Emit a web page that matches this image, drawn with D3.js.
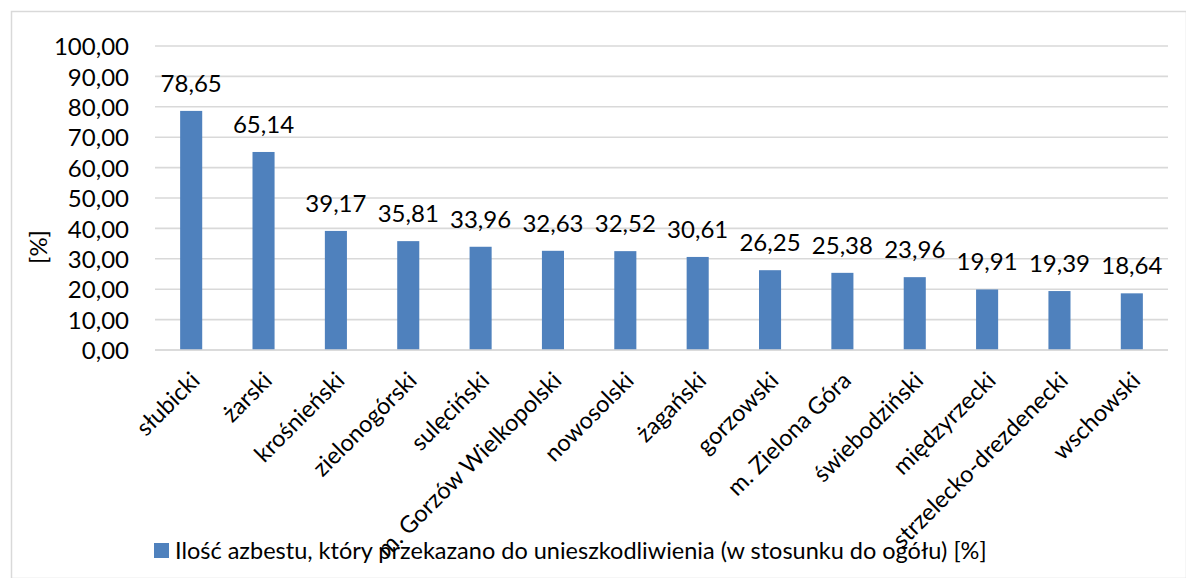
<!DOCTYPE html>
<html>
<head>
<meta charset="utf-8">
<script src="https://cdn.jsdelivr.net/npm/d3@7"></script>
<style>
  html, body { margin: 0; padding: 0; background: #fff; }
  svg { display: block; }
  text { font-family: Lato, "Open Sans", sans-serif; fill: #000; }
</style>
</head>
<body>
<svg id="chart" width="1186" height="578"></svg>
<script>
// Powiaty (counties) and share of asbestos sent for disposal [%]
const categories = [
  "słubicki", "żarski", "krośnieński", "zielonogórski", "sulęciński",
  "m. Gorzów Wielkopolski", "nowosolski", "żagański", "gorzowski",
  "m. Zielona Góra", "świebodziński", "międzyrzecki",
  "strzelecko-drezdenecki", "wschowski"
];
const values = [78.65, 65.14, 39.17, 35.81, 33.96, 32.63, 32.52, 30.61,
                26.25, 25.38, 23.96, 19.91, 19.39, 18.64];
const yTicks = [0, 10, 20, 30, 40, 50, 60, 70, 80, 90, 100];
const seriesName = "Ilość azbestu, który przekazano do unieszkodliwienia (w stosunku do ogółu) [%]";
const yTitle = "[%]";

const fmt = v => v.toFixed(2).replace(".", ",");

const svg = d3.select("#chart");
const W = 1186, H = 578;
const plot = { left: 155, right: 1168, top: 46, bottom: 350 };
const barColor = "#4f81bd";
const gridColor = "#d9d9d9";

// chart frame
svg.append("rect")
  .attr("x", 11.5).attr("y", 11.5)
  .attr("width", W - 11).attr("height", H - 11)
  .attr("fill", "#fff").attr("stroke", gridColor).attr("stroke-width", 1.5);

const x = d3.scaleBand().domain(categories)
  .range([plot.left, plot.right]).paddingInner(0.695).paddingOuter(0.3475);
const y = d3.scaleLinear().domain([0, 100]).range([plot.bottom, plot.top]);

// horizontal gridlines
svg.append("g").selectAll("line").data(yTicks).join("line")
  .attr("x1", plot.left).attr("x2", plot.right)
  .attr("y1", d => y(d)).attr("y2", d => y(d))
  .attr("stroke", gridColor).attr("stroke-width", 1.6);

// y axis labels
const yAxis = d3.axisLeft(y).tickValues(yTicks).tickFormat(fmt).tickSize(0).tickPadding(0);
const gy = svg.append("g").attr("transform", `translate(129,0)`).call(yAxis);
gy.select(".domain").remove();
gy.selectAll("text").attr("font-size", 24).attr("font-family", "Lato, sans-serif").attr("fill", "#000").attr("dy", "0.36em");

// y axis title
svg.append("text")
  .attr("transform", "translate(47,247) rotate(-90)")
  .attr("text-anchor", "middle")
  .attr("font-size", 24)
  .text(yTitle);

// bars
svg.append("g").selectAll("rect").data(values).join("rect")
  .attr("x", (d, i) => x(categories[i]))
  .attr("y", d => y(d))
  .attr("width", x.bandwidth())
  .attr("height", d => y(0) - y(d))
  .attr("fill", barColor);

// bar value labels
svg.append("g").selectAll("text").data(values).join("text")
  .attr("x", (d, i) => x(categories[i]) + x.bandwidth() / 2)
  .attr("y", d => y(d) - 19)
  .attr("text-anchor", "middle")
  .attr("font-size", 24)
  .text(fmt);

// x axis baseline
svg.append("line")
  .attr("x1", plot.left).attr("x2", plot.right)
  .attr("y1", y(0)).attr("y2", y(0))
  .attr("stroke", gridColor).attr("stroke-width", 1.6);

// category labels, rotated
const gx = svg.append("g").attr("transform", `translate(0,${plot.bottom})`)
  .call(d3.axisBottom(x).tickSize(0).tickPadding(0));
gx.select(".domain").remove();
gx.selectAll("text")
  .attr("font-size", 23.5)
  .attr("font-family", "Lato, sans-serif")
  .attr("fill", "#000")
  .attr("text-anchor", "end")
  .attr("dy", null).attr("y", null)
  .attr("transform", "translate(-3,19) rotate(-45)")
  .attr("dominant-baseline", "hanging");

// legend
const lg = svg.append("g").attr("transform", "translate(154,543)");
lg.append("rect").attr("width", 15).attr("height", 15).attr("fill", barColor);
lg.append("text").attr("x", 21).attr("y", 15.5).attr("font-size", 23.5).text(seriesName);
</script>
</body>
</html>
